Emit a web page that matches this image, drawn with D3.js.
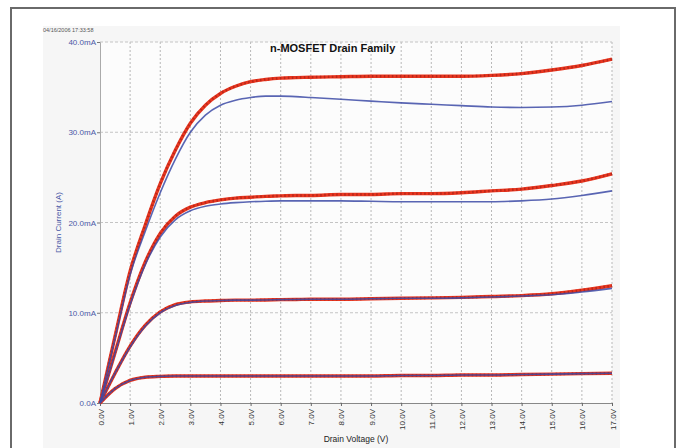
<!DOCTYPE html>
<html>
<head>
<meta charset="utf-8">
<script src="https://cdn.jsdelivr.net/npm/d3@7"></script>
<style>
  body { margin: 0; background: #fff; }
  svg { display: block; font-family: "Liberation Sans", Arial, sans-serif; }
</style>
</head>
<body>
<div id="chart"></div>
<script>
// drain voltage sample points (V)
const voltages = [0, 0.5, 1, 1.5, 2, 2.5, 3, 3.5, 4, 4.5, 5, 5.5, 6, 6.5, 7, 8, 9, 10, 11, 12, 13, 14, 15, 16, 17];

// drain current (mA), red = measured, blue = model
const red1 = [0, 7.4, 14.6, 19.7, 24.3, 28.0, 31.0, 33.0, 34.3, 35.1, 35.6, 35.85, 36.0, 36.05, 36.1, 36.15, 36.2, 36.2, 36.2, 36.2, 36.3, 36.5, 36.9, 37.4, 38.1];
const blue1 = [0, 7.2, 14.2, 19.0, 23.3, 27.0, 30.0, 31.9, 33.0, 33.55, 33.85, 34.0, 34.0, 33.95, 33.85, 33.65, 33.45, 33.25, 33.1, 32.95, 32.8, 32.75, 32.8, 33.0, 33.4];
const red2 = [0, 5.6, 11.1, 15.6, 18.8, 20.7, 21.7, 22.2, 22.5, 22.7, 22.8, 22.9, 22.95, 23.0, 23.0, 23.1, 23.1, 23.2, 23.2, 23.3, 23.5, 23.7, 24.1, 24.6, 25.4];
const blue2 = [0, 5.5, 10.9, 15.3, 18.4, 20.3, 21.3, 21.8, 22.05, 22.2, 22.3, 22.35, 22.4, 22.4, 22.4, 22.4, 22.35, 22.3, 22.3, 22.3, 22.3, 22.4, 22.6, 23.0, 23.5];
const red3 = [0, 3.3, 6.3, 8.6, 10.1, 10.9, 11.2, 11.3, 11.35, 11.4, 11.4, 11.42, 11.45, 11.47, 11.5, 11.5, 11.55, 11.6, 11.65, 11.7, 11.8, 11.9, 12.1, 12.5, 13.0];
const blue3 = [0, 3.3, 6.2, 8.5, 10.0, 10.8, 11.15, 11.3, 11.35, 11.4, 11.4, 11.42, 11.45, 11.47, 11.5, 11.5, 11.55, 11.6, 11.6, 11.65, 11.75, 11.85, 12.0, 12.3, 12.7];
const red4 = [0, 1.6, 2.5, 2.85, 2.95, 3.0, 3.0, 3.0, 3.0, 3.0, 3.0, 3.0, 3.0, 3.0, 3.0, 3.0, 3.0, 3.05, 3.05, 3.1, 3.1, 3.15, 3.2, 3.25, 3.3];
const blue4 = [0, 1.6, 2.5, 2.85, 2.95, 3.0, 3.0, 3.0, 3.0, 3.0, 3.0, 3.0, 3.0, 3.0, 3.0, 3.0, 3.0, 3.05, 3.05, 3.1, 3.1, 3.15, 3.2, 3.25, 3.3];

const redSeries = [red1, red2, red3, red4];
const blueSeries = [blue1, blue2, blue3, blue4];

const xTicks = d3.range(0, 18);          // 0.0V .. 17.0V
const yTicks = [0, 10, 20, 30, 40];      // mA

const title = "n-MOSFET Drain Family";
const stamp = "04/16/2006 17:33:58";

const W = 681, H = 448;
const plot = { left: 100, right: 612, top: 42, bottom: 403 };

const svg = d3.select("#chart").append("svg")
    .attr("width", W)
    .attr("height", H);

// outer frame and grey panel
svg.append("rect")
    .attr("x", 11).attr("y", 8)
    .attr("width", 664).attr("height", 450)
    .attr("fill", "#fff")
    .attr("stroke", "#6a6a6a")
    .attr("stroke-width", 2);

svg.append("rect")
    .attr("x", 43).attr("y", 26)
    .attr("width", 577).attr("height", 430)
    .attr("fill", "#f6f6f6");

svg.append("rect")
    .attr("x", plot.left).attr("y", plot.top)
    .attr("width", plot.right - plot.left).attr("height", plot.bottom - plot.top)
    .attr("fill", "#fcfcfc");

const x = d3.scaleLinear().domain([0, 17]).range([plot.left, plot.right]);
const y = d3.scaleLinear().domain([0, 40]).range([plot.bottom, plot.top]);

// grid
const grid = svg.append("g");
grid.selectAll(".vg")
    .data(xTicks.slice(1))
    .enter().append("line")
    .attr("x1", d => x(d)).attr("x2", d => x(d))
    .attr("y1", plot.top).attr("y2", plot.bottom)
    .attr("stroke", "#b8b8b8")
    .attr("stroke-width", 1)
    .attr("stroke-dasharray", "2,2");

grid.selectAll(".hg")
    .data(yTicks.slice(1))
    .enter().append("line")
    .attr("x1", plot.left).attr("x2", plot.right)
    .attr("y1", d => y(d)).attr("y2", d => y(d))
    .attr("stroke", "#c4c4c4")
    .attr("stroke-width", 1)
    .attr("stroke-dasharray", "3,2");

// axes
const xAxis = svg.append("g")
    .attr("transform", "translate(0," + plot.bottom + ")")
    .call(d3.axisBottom(x).tickValues(xTicks).tickSize(3).tickFormat(""));
xAxis.select(".domain").attr("stroke", "#888");
xAxis.selectAll(".tick line").attr("stroke", "#666");

xAxis.selectAll(".tick")
    .append("text")
    .attr("transform", "translate(3,6) rotate(-90)")
    .attr("text-anchor", "end")
    .attr("fill", "#333")
    .attr("font-size", "8px")
    .text(d => d.toFixed(1) + "V");

const yAxis = svg.append("g")
    .attr("transform", "translate(" + plot.left + ",0)")
    .call(d3.axisLeft(y).tickValues(yTicks).tickSize(3)
        .tickFormat(d => d === 0 ? "0.0A" : d.toFixed(1) + "mA"));
yAxis.select(".domain").attr("stroke", "#aaa");
yAxis.selectAll(".tick line").attr("stroke", "#777");
yAxis.selectAll(".tick text")
    .attr("fill", "#4a58a6")
    .attr("font-size", "8px")
    .attr("font-family", "Liberation Sans, Arial, sans-serif")
    .attr("x", -4);

// curves
const line = d3.line()
    .x((d, i) => x(voltages[i]))
    .y(d => y(d))
    .curve(d3.curveMonotoneX);

redSeries.forEach(s => {
    svg.append("path")
        .datum(s)
        .attr("d", line)
        .attr("fill", "none")
        .attr("stroke", "#e8361f")
        .attr("stroke-width", 3.4);
    svg.append("path")
        .datum(s)
        .attr("d", line)
        .attr("fill", "none")
        .attr("stroke", "#b8261a")
        .attr("stroke-width", 2.4)
        .attr("stroke-dasharray", "1.5,2.5");
});

blueSeries.forEach(s => {
    svg.append("path")
        .datum(s)
        .attr("d", line)
        .attr("fill", "none")
        .attr("stroke", "#3c4aa6")
        .attr("stroke-opacity", 0.85)
        .attr("stroke-width", 1.6);
});

// texts
svg.append("text")
    .attr("x", 43).attr("y", 32)
    .attr("font-size", "5.5px")
    .attr("fill", "#555")
    .text(stamp);

svg.append("text")
    .attr("x", 270).attr("y", 52)
    .attr("font-size", "11px")
    .attr("font-weight", "bold")
    .attr("fill", "#111")
    .text(title);

svg.append("text")
    .attr("transform", "translate(61," + (plot.top + plot.bottom) / 2 + ") rotate(-90)")
    .attr("text-anchor", "middle")
    .attr("font-size", "8px")
    .attr("fill", "#4a58a6")
    .text("Drain Current (A)");

svg.append("text")
    .attr("x", 356).attr("y", 442)
    .attr("text-anchor", "middle")
    .attr("font-size", "8.5px")
    .attr("fill", "#222")
    .text("Drain Voltage (V)");
</script>
</body>
</html>
